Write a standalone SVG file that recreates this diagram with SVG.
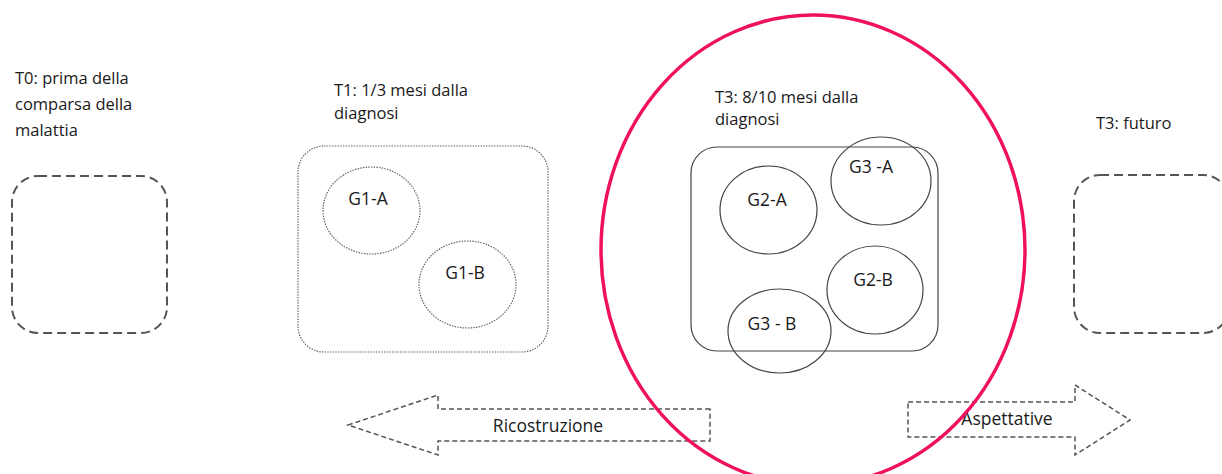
<svg xmlns="http://www.w3.org/2000/svg" width="1222" height="474" viewBox="0 0 1222 474">
  <style>
    text { font-family: "Open Sans", "Liberation Sans", sans-serif; fill: #1a1a1a; }
    .title { font-size: 16.5px; }
    .lbl { font-size: 17.5px; text-anchor: middle; dominant-baseline: central; }
    .dash-box { fill: none; stroke: #555; stroke-width: 2; stroke-dasharray: 9 5; }
    .dot-line { fill: none; stroke: #666; stroke-width: 1.2; stroke-dasharray: 1.5 1.2; }
    .solid { fill: none; stroke: #444; stroke-width: 1.2; }
    .arrow { fill: none; stroke: #555; stroke-width: 1.5; stroke-dasharray: 5 3; }
  </style>
  <rect width="1222" height="474" fill="#fff"/>

  <g id="t0">
    <text class="title" x="15" y="84">T0: prima della</text>
    <text class="title" x="15" y="110">comparsa della</text>
    <text class="title" x="15" y="136">malattia</text>
    <rect class="dash-box" x="12" y="176" width="155" height="157" rx="26"/>
  </g>

  <g id="t1">
    <text class="title" x="334" y="96">T1: 1/3 mesi dalla</text>
    <text class="title" x="334" y="119">diagnosi</text>
    <rect class="dot-line" x="298" y="146" width="250" height="206" rx="26"/>
    <g id="g1a">
      <ellipse class="dot-line" cx="371.5" cy="210.5" rx="48.5" ry="43.5"/>
      <text class="lbl" x="368" y="198">G1-A</text>
    </g>
    <g id="g1b">
      <ellipse class="dot-line" cx="467.5" cy="284.5" rx="48.5" ry="43.5"/>
      <text class="lbl" x="465" y="272">G1-B</text>
    </g>
  </g>

  <g id="t3">
    <text class="title" x="715" y="103">T3: 8/10 mesi dalla</text>
    <text class="title" x="715" y="125">diagnosi</text>
    <rect class="solid" x="691" y="147" width="247" height="204" rx="26"/>
    <g id="g2a">
      <ellipse class="solid" cx="768.5" cy="210" rx="48.5" ry="44"/>
      <text class="lbl" x="767" y="199">G2-A</text>
    </g>
    <g id="g3a">
      <ellipse class="solid" cx="881" cy="181" rx="50" ry="44"/>
      <text class="lbl" x="871" y="166">G3 -A</text>
    </g>
    <g id="g2b">
      <ellipse class="solid" cx="875" cy="290" rx="48" ry="44"/>
      <text class="lbl" x="873" y="279">G2-B</text>
    </g>
    <g id="g3b">
      <ellipse class="solid" cx="779.5" cy="331" rx="51.5" ry="42"/>
      <text class="lbl" x="772" y="323">G3 - B</text>
    </g>
  </g>

  <g id="t3-futuro">
    <text class="title" x="1096" y="129">T3: futuro</text>
    <rect class="dash-box" x="1074" y="175" width="155" height="158" rx="26"/>
  </g>

  <g id="connectors">
    <g id="ricostruzione">
      <path class="arrow" d="M710 409 H438 V395 L348 425 L438 455 V441 H710 Z"/>
      <text class="lbl" x="548" y="425">Ricostruzione</text>
    </g>
    <g id="aspettative">
      <path class="arrow" d="M908 402 H1075 V385 L1130 420 L1075 455 V437 H908 Z"/>
      <text class="lbl" x="1007" y="418">Aspettative</text>
    </g>
  </g>

  <g id="highlight">
    <ellipse cx="813" cy="250" rx="212" ry="235" fill="none" stroke="#f01060" stroke-width="3.5"/>
  </g>
</svg>
